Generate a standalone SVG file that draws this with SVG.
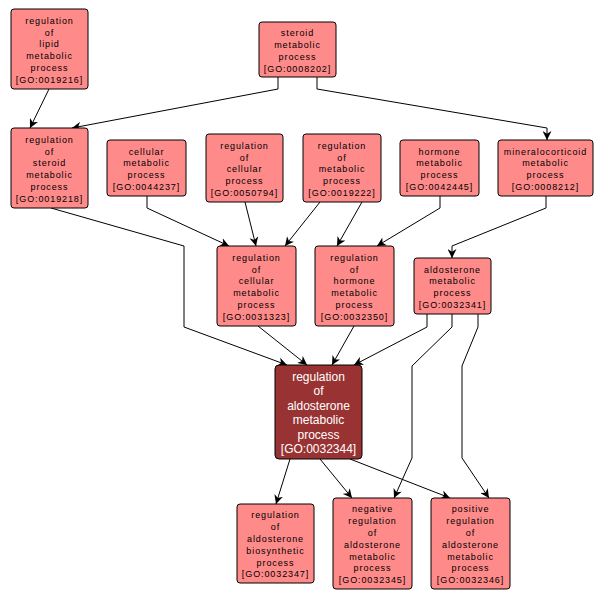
<svg xmlns="http://www.w3.org/2000/svg" width="604" height="600" viewBox="0 0 604 600">
<style>
.n rect{fill:#ff8a8a;stroke:#000;stroke-width:1}
.n text{font-family:"Liberation Sans",Arial,sans-serif;font-size:9px;letter-spacing:0.9px;text-anchor:middle;fill:#000}
.c rect{fill:#993333;stroke:#000;stroke-width:1}
.c text{font-family:"Liberation Sans",Arial,sans-serif;font-size:12px;text-anchor:middle;fill:#fff}
.e path{fill:none;stroke:#000;stroke-width:1;marker-end:url(#arr)}
</style>
<defs>
<marker id="arr" viewBox="0 0 10 10" refX="10" refY="5" markerWidth="9" markerHeight="9" markerUnits="userSpaceOnUse" orient="auto">
<path d="M0,0 L10,5 L0,10 L3,5 z" fill="#000"/>
</marker>
</defs>
<rect width="604" height="600" fill="#fff"/>
<g id="edges" class="e">
<path d="M49,89 L30,128"/>
<path d="M278,77 L278,89 L72,128"/>
<path d="M317,77 L317,89 L547,128 L547,140"/>
<path d="M51,208 L184,246 L184,327 L287,365"/>
<path d="M147,196 L147,208 L229,246"/>
<path d="M245,202 L256,246"/>
<path d="M320,202 L285,246"/>
<path d="M362,202 L337,246"/>
<path d="M440,196 L440,208 L377,246"/>
<path d="M546,196 L546,208 L452,246 L452,258"/>
<path d="M258,326 L307,365"/>
<path d="M354,326 L332,365"/>
<path d="M427,314 L427,327 L354,365"/>
<path d="M452,314 L452,327 L412,366 L412,458 L394,498"/>
<path d="M478,314 L478,327 L462,366 L462,458 L489,498"/>
<path d="M290,459 L276,504"/>
<path d="M320,459 L352,498"/>
<path d="M350,459 L450,498"/>
</g>
<g id="GO0019216" class="n"><rect x="11" y="9" width="77" height="80" rx="3"/>
<text x="49.5" y="23.8">regulation</text><text x="49.5" y="35.6">of</text><text x="49.5" y="47.4">lipid</text><text x="49.5" y="59.2">metabolic</text><text x="49.5" y="71">process</text><text x="49.5" y="82.8">[GO:0019216]</text></g>
<g id="GO0008202" class="n"><rect x="259" y="22" width="77" height="55" rx="3"/>
<text x="297.5" y="36.1">steroid</text><text x="297.5" y="47.9">metabolic</text><text x="297.5" y="59.7">process</text><text x="297.5" y="71.5">[GO:0008202]</text></g>
<g id="GO0019218" class="n"><rect x="11" y="128" width="77" height="80" rx="3"/>
<text x="49.5" y="142.8">regulation</text><text x="49.5" y="154.6">of</text><text x="49.5" y="166.4">steroid</text><text x="49.5" y="178.2">metabolic</text><text x="49.5" y="190">process</text><text x="49.5" y="201.8">[GO:0019218]</text></g>
<g id="GO0044237" class="n"><rect x="107" y="140" width="79" height="56" rx="3"/>
<text x="146.5" y="154.6">cellular</text><text x="146.5" y="166.4">metabolic</text><text x="146.5" y="178.2">process</text><text x="146.5" y="190">[GO:0044237]</text></g>
<g id="GO0050794" class="n"><rect x="206" y="134" width="77" height="68" rx="3"/>
<text x="244.5" y="148.7">regulation</text><text x="244.5" y="160.5">of</text><text x="244.5" y="172.3">cellular</text><text x="244.5" y="184.1">process</text><text x="244.5" y="195.9">[GO:0050794]</text></g>
<g id="GO0019222" class="n"><rect x="303" y="134" width="78" height="68" rx="3"/>
<text x="342" y="148.7">regulation</text><text x="342" y="160.5">of</text><text x="342" y="172.3">metabolic</text><text x="342" y="184.1">process</text><text x="342" y="195.9">[GO:0019222]</text></g>
<g id="GO0042445" class="n"><rect x="400" y="140" width="79" height="56" rx="3"/>
<text x="439.5" y="154.6">hormone</text><text x="439.5" y="166.4">metabolic</text><text x="439.5" y="178.2">process</text><text x="439.5" y="190">[GO:0042445]</text></g>
<g id="GO0008212" class="n"><rect x="498" y="140" width="95" height="56" rx="3"/>
<text x="545.5" y="154.6">mineralocorticoid</text><text x="545.5" y="166.4">metabolic</text><text x="545.5" y="178.2">process</text><text x="545.5" y="190">[GO:0008212]</text></g>
<g id="GO0031323" class="n"><rect x="217" y="246" width="79" height="80" rx="3"/>
<text x="256.5" y="260.8">regulation</text><text x="256.5" y="272.6">of</text><text x="256.5" y="284.4">cellular</text><text x="256.5" y="296.2">metabolic</text><text x="256.5" y="308">process</text><text x="256.5" y="319.8">[GO:0031323]</text></g>
<g id="GO0032350" class="n"><rect x="315" y="246" width="79" height="80" rx="3"/>
<text x="354.5" y="260.8">regulation</text><text x="354.5" y="272.6">of</text><text x="354.5" y="284.4">hormone</text><text x="354.5" y="296.2">metabolic</text><text x="354.5" y="308">process</text><text x="354.5" y="319.8">[GO:0032350]</text></g>
<g id="GO0032341" class="n"><rect x="414" y="258" width="77" height="56" rx="3"/>
<text x="452.5" y="272.6">aldosterone</text><text x="452.5" y="284.4">metabolic</text><text x="452.5" y="296.2">process</text><text x="452.5" y="308">[GO:0032341]</text></g>
<g id="GO0032344" class="c"><rect x="275" y="365" width="87" height="94" rx="4"/>
<text x="318.5" y="381">regulation</text><text x="318.5" y="395.4">of</text><text x="318.5" y="409.8">aldosterone</text><text x="318.5" y="424.2">metabolic</text><text x="318.5" y="438.6">process</text><text x="318.5" y="453">[GO:0032344]</text></g>
<g id="GO0032347" class="n"><rect x="237" y="504" width="77" height="79" rx="3"/>
<text x="275.5" y="518.3">regulation</text><text x="275.5" y="530.1">of</text><text x="275.5" y="541.9">aldosterone</text><text x="275.5" y="553.7">biosynthetic</text><text x="275.5" y="565.5">process</text><text x="275.5" y="577.3">[GO:0032347]</text></g>
<g id="GO0032345" class="n"><rect x="333" y="498" width="79" height="91" rx="3"/>
<text x="372.5" y="512.4">negative</text><text x="372.5" y="524.2">regulation</text><text x="372.5" y="536">of</text><text x="372.5" y="547.8">aldosterone</text><text x="372.5" y="559.6">metabolic</text><text x="372.5" y="571.4">process</text><text x="372.5" y="583.2">[GO:0032345]</text></g>
<g id="GO0032346" class="n"><rect x="431" y="498" width="79" height="91" rx="3"/>
<text x="470.5" y="512.4">positive</text><text x="470.5" y="524.2">regulation</text><text x="470.5" y="536">of</text><text x="470.5" y="547.8">aldosterone</text><text x="470.5" y="559.6">metabolic</text><text x="470.5" y="571.4">process</text><text x="470.5" y="583.2">[GO:0032346]</text></g>
</svg>
